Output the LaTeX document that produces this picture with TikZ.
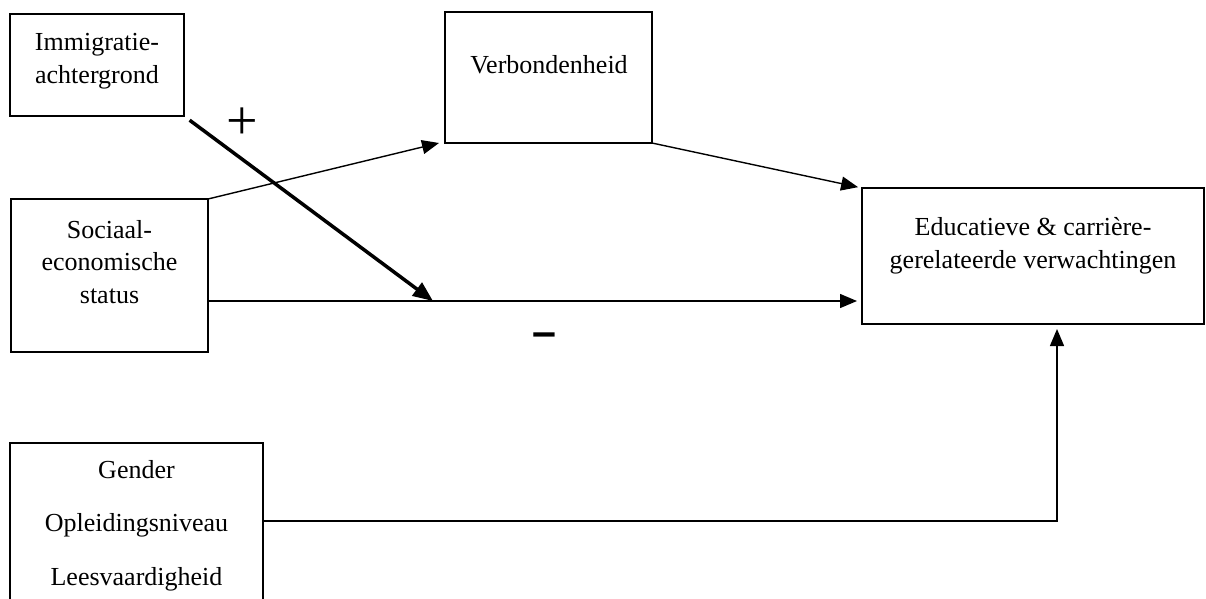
\documentclass[tikz,border=0pt]{standalone}
\usepackage{fontspec}
\setmainfont{Liberation Serif}
\newfontfamily\signfont{Liberation Sans}
\usetikzlibrary{arrows.meta,calc}

\begin{document}
\begin{tikzpicture}[x=1pt,y=-1pt,
  box/.style={draw, rectangle, line width=1.4pt, inner sep=0pt, outer sep=0pt},
  lbl/.style={font=\fontsize{26}{32.5}\selectfont, align=center, inner sep=0pt, anchor=base},
  widelbl/.style={lbl, font=\fontsize{26}{53.5}\selectfont},
  link/.style={line width=1.4pt, -{Triangle[length=17pt,width=14pt]}},
  boldlink/.style={line width=3.5pt, -{Triangle[length=20pt,width=16pt]}},
  sign/.style={inner sep=0pt, anchor=center}]

\useasboundingbox (0,0) rectangle (1206,598);

% boxes
\node[box, minimum width=174pt, minimum height=102pt] (imm)  at (97,65)     {};
\node[box, minimum width=207pt, minimum height=131pt] (verb) at (548.5,77.5) {};
\node[box, minimum width=197pt, minimum height=153pt] (soc)  at (109.5,275.5) {};
\node[box, minimum width=342pt, minimum height=136pt] (educ) at (1033,256)  {};
\node[box, minimum width=253pt, minimum height=172pt] (gen)  at (136.5,529) {};

% box texts (placed on the baseline of their last line)
\node[lbl] (immtxt)  at (97,83)    {Immigratie-\\achtergrond};
\node[lbl] (verbtxt) at (549,73)   {Verbondenheid};
\node[lbl] (soctxt)  at (109.5,303) {Sociaal-\\economische\\status};
\node[lbl] (eductxt) at (1033,268) {Educatieve \& carrière-\\gerelateerde verwachtingen};
\node[widelbl] (gentxt) at (136.5,585) {Gender\\Opleidingsniveau\\Leesvaardigheid};

% points where connectors meet
\coordinate (mid)  at (433,301);
\coordinate (bend) at (1057,521);

% connectors
\draw[link] (soc.north east) -- ($(verb.south west)+(-6,0)$);
\draw[link, shorten >=4pt] (verb.south east) -- (educ.north west);
\draw[link, shorten >=5pt] (soc.east |- mid) -- (educ.west |- mid);
\draw[boldlink, shorten <=7pt] (imm.south east) -- (mid);
\draw[link, shorten >=5pt] (gen.east |- bend) -- (bend) -- (educ.south -| bend);

% signs
\node[sign, font=\fontsize{56}{56}\selectfont] (plus) at (242,124) {+};
\node[sign, font=\signfont\bfseries\fontsize{43}{43}\selectfont] (minus) at (544,340) {–};
\end{tikzpicture}
\end{document}
